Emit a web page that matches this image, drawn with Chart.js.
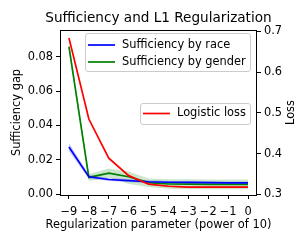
<!DOCTYPE html>
<html><head><meta charset="utf-8">
<script src="https://cdn.jsdelivr.net/npm/chart.js@4"></script>
<style>html,body{margin:0;padding:0;background:#fff}#wrap{width:299px;height:245px}</style>
</head><body><div id="wrap"><canvas id="c" width="299" height="245"></canvas></div>
<script>
const xs = [-9,-8,-7,-6,-5,-4,-3,-2,-1,0];
const race      = [0.0275,0.0102,0.0086,0.0080,0.0073,0.0070,0.0069,0.0068,0.0067,0.0067];
const raceLow   = [0.0251,0.0090,0.0077,0.0071,0.0064,0.0062,0.0061,0.0060,0.0059,0.0059];
const raceHigh  = [0.0299,0.0114,0.0095,0.0089,0.0082,0.0078,0.0077,0.0076,0.0075,0.0075];
const gender    = [0.0858,0.0098,0.0123,0.0102,0.0068,0.0060,0.0059,0.0058,0.0058,0.0058];
const genderLow = [0.0830,0.0078,0.0098,0.0060,0.0042,0.0033,0.0031,0.0030,0.0030,0.0030];
const genderHigh= [0.0886,0.0118,0.0150,0.0132,0.0092,0.0088,0.0087,0.0086,0.0086,0.0086];
const loss      = [0.684,0.485,0.389,0.346,0.325,0.320,0.318,0.318,0.318,0.318];
const lossLow   = [0.682,0.483,0.387,0.344,0.323,0.318,0.316,0.316,0.316,0.316];
const lossHigh  = [0.686,0.487,0.391,0.348,0.327,0.322,0.320,0.320,0.320,0.320];
const leftTicks = [0, 0.02, 0.04, 0.06, 0.08];
const rightTicks = [0.3, 0.4, 0.5, 0.6, 0.7];
const xTicks = xs;
const titleText = 'Sufficiency and L1 Regularization';
const xLabel = 'Regularization parameter (power of 10)';
const yLabel = 'Sufficiency gap';
const y1Label = 'Loss';

const pts = a => a.map((v,i)=>({x:xs[i], y:v}));
const FONT = '"DejaVu Sans", sans-serif';
const FS = 11.4;
const minus = s => String(s).replace('-', '\u2212');

function line(label, data, color, axis){
  return {label, data: pts(data), borderColor: color, backgroundColor: color, borderWidth: 1.7,
    pointRadius: 0, fill: false, tension: 0, yAxisID: axis};
}
function band(data, axis, fill, bg){
  return {label: '', data: pts(data), borderWidth: 0, borderColor: 'rgba(0,0,0,0)', pointRadius: 0,
    backgroundColor: bg, fill: fill, tension: 0, yAxisID: axis};
}

const datasets = [
  line('Logistic loss', loss, '#ff0000', 'y1'),
  line('Sufficiency by race', race, '#0000ff', 'y'),
  line('Sufficiency by gender', gender, '#008000', 'y'),
  band(raceLow, 'y', false, 'rgba(0,0,0,0)'),
  band(raceHigh, 'y', '-1', 'rgba(0,0,255,0.2)'),
  band(genderLow, 'y', false, 'rgba(0,0,0,0)'),
  band(genderHigh, 'y', '-1', 'rgba(0,128,0,0.2)'),
  band(lossLow, 'y1', false, 'rgba(0,0,0,0)'),
  band(lossHigh, 'y1', '-1', 'rgba(255,0,0,0.2)'),
];

function drawLegend(ctx, box, items){
  ctx.save();
  ctx.beginPath();
  ctx.roundRect(box.x+0.5, box.y+0.5, box.w, box.h, 2.5);
  ctx.fillStyle = 'rgba(255,255,255,0.8)';
  ctx.fill();
  ctx.strokeStyle = '#cccccc';
  ctx.lineWidth = 1;
  ctx.stroke();
  ctx.font = FS + 'px ' + FONT;
  ctx.textBaseline = 'middle';
  ctx.fillStyle = '#000';
  items.forEach((it, i) => {
    const y = box.y + box.first + i * box.step;
    ctx.beginPath();
    ctx.strokeStyle = it.color;
    ctx.lineWidth = 1.7;
    ctx.moveTo(box.x + 3, y); ctx.lineTo(box.x + 30, y);
    ctx.stroke();
    ctx.fillText(it.label, box.x + 37, y);
  });
  ctx.restore();
}

const deco = {
  id: 'deco',
  afterDraw(chart){
    const ctx = chart.ctx, a = chart.chartArea;
    ctx.save();
    ctx.strokeStyle = '#000'; ctx.lineWidth = 1;
    ctx.strokeRect(Math.round(a.left)+0.5, Math.round(a.top)+0.5, Math.round(a.right-a.left)-1, Math.round(a.bottom-a.top));
    ctx.fillStyle = '#000';
    ctx.textAlign = 'center'; ctx.textBaseline = 'alphabetic';
    ctx.font = '13.6px ' + FONT;
    ctx.fillText(titleText, (a.left+a.right)/2, 22);
    ctx.font = FS + 'px ' + FONT;
    ctx.textBaseline = 'middle';
    ctx.fillText(xLabel, (a.left+a.right)/2, 225);
    ctx.save(); ctx.translate(17, (a.top+a.bottom)/2); ctx.rotate(-Math.PI/2); ctx.fillText(yLabel, 0, 0); ctx.restore();
    ctx.save(); ctx.translate(291, (a.top+a.bottom)/2); ctx.rotate(-Math.PI/2); ctx.fillText(y1Label, 0, 0); ctx.restore();
    ctx.restore();
    const ds = chart.data.datasets;
    const get = l => { const d = ds.find(d => d.label === l); return {label: d.label, color: d.borderColor}; };
    drawLegend(ctx, {x: 85, y: 33, w: 165, h: 38, first: 12, step: 17}, [get('Sufficiency by race'), get('Sufficiency by gender')]);
    drawLegend(ctx, {x: 140, y: 103, w: 110, h: 21, first: 10.5, step: 17}, [get('Logistic loss')]);
  }
};

const tickGrid = {display: true, drawOnChartArea: false, drawTicks: true, tickLength: 4, color: '#000', lineWidth: 1};
const tickFont = {family: FONT, size: FS};

new Chart(document.getElementById('c'), {
  type: 'line',
  data: {datasets},
  options: {
    responsive: false, animation: false, devicePixelRatio: 1,
    layout: {padding: {top: 30, left: 0, right: 0, bottom: 0}},
    plugins: {legend: {display: false}, title: {display: false}, tooltip: {enabled: false},
      filler: {drawTime: 'beforeDatasetsDraw'}},
    scales: {
      x: {type: 'linear', min: -9.45, max: 0.45, grid: tickGrid, border: {display: false},
        afterBuildTicks: s => { s.ticks = xTicks.map(v => ({value: v})); },
        afterFit: s => { s.height = 50; },
        ticks: {font: tickFont, color: '#000', padding: 6, maxRotation: 0, autoSkip: false, callback: v => minus(v)}},
      y: {type: 'linear', position: 'left', min: -0.0004, max: 0.0955, grid: tickGrid, border: {display: false},
        afterBuildTicks: s => { s.ticks = leftTicks.map(v => ({value: v})); },
        afterFit: s => { s.width = 60; },
        ticks: {font: tickFont, color: '#000', padding: 3, callback: v => v.toFixed(2)}},
      y1: {type: 'linear', position: 'right', min: 0.2985, max: 0.7035, grid: tickGrid, border: {display: false},
        afterBuildTicks: s => { s.ticks = rightTicks.map(v => ({value: v})); },
        afterFit: s => { s.width = 42; },
        ticks: {font: tickFont, color: '#000', padding: 3, callback: v => v.toFixed(1)}}
    }
  },
  plugins: [deco]
});
</script></body></html>
